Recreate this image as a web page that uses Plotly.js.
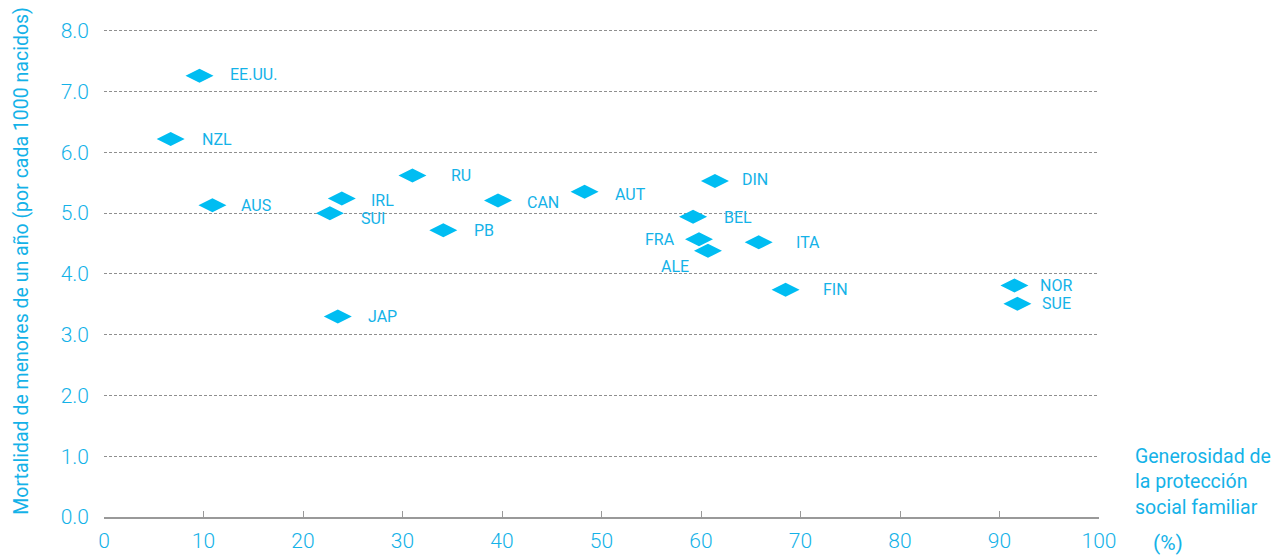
<!DOCTYPE html>
<html>
<head>
<meta charset="utf-8">
<script src="https://cdn.plot.ly/plotly-3.0.1.min.js"></script>
<style>html,body{margin:0;padding:0;background:#fff;}#chart{width:1271px;height:555px;}</style>
</head>
<body>
<div id="chart"></div>
<script>
// Data
const countries = ["EE.UU.","NZL","AUS","IRL","SUI","RU","PB","JAP","CAN","AUT","DIN","BEL","FRA","ALE","ITA","FIN","NOR","SUE"];
const generosity = [9.6, 6.7, 10.9, 23.9, 22.7, 31.0, 34.1, 23.5, 39.6, 48.3, 61.4, 59.2, 59.8, 60.7, 65.8, 68.5, 91.5, 91.8];
const mortality  = [7.26, 6.22, 5.13, 5.24, 5.00, 5.62, 4.72, 3.30, 5.21, 5.35, 5.53, 4.94, 4.57, 4.38, 4.52, 3.74, 3.81, 3.51];
const xTicks = [0,10,20,30,40,50,60,70,80,90,100];
const yTicks = [0,1,2,3,4,5,6,7,8];

// Label placement (styling only)
const labelDX = [28,29,27,27,29,37,29,28,27,28,25,29,-22,-17,35,35,24,23];
const labelDY = [1,0,0,-2,-5,0,0,0,-2,-3,1,-1,0,-16,0,0,0,0];

const cyan = "#00BDF2";
const textCyan = "#14B2E8";
const FONT = "Roboto, 'Liberation Sans', Arial, sans-serif";

const trace = {
  type: "scatter",
  mode: "markers",
  x: generosity,
  y: mortality,
  marker: {symbol: "diamond-wide", size: 20, color: cyan, line: {width: 0}},
  hoverinfo: "skip",
  showlegend: false
};

const annotations = countries.map((c, i) => ({
  x: generosity[i], y: mortality[i], xref: "x", yref: "y",
  text: c, showarrow: false,
  xanchor: labelDX[i] < 0 ? "right" : "left", yanchor: "middle",
  xshift: labelDX[i], yshift: labelDY[i],
  font: {family: FONT, size: 16, color: textCyan}
}));

annotations.push({
  xref: "paper", yref: "paper", x: -0.083, y: 0.526,
  xanchor: "center", yanchor: "middle", textangle: -90,
  text: "Mortalidad de menores de un año (por cada 1000 nacidos)",
  showarrow: false, font: {family: FONT, size: 19.5, color: textCyan}
});
annotations.push({
  xref: "paper", yref: "paper", x: 1.034, y: 0.071,
  xanchor: "left", yanchor: "middle", align: "left",
  text: "Generosidad de<br>la protección<br>social familiar",
  showarrow: false, font: {family: FONT, size: 19.5, color: textCyan}
});
annotations.push({
  xref: "paper", yref: "paper", x: 1.0698, y: -0.053,
  xanchor: "center", yanchor: "middle",
  text: "(%)", showarrow: false, font: {family: FONT, size: 21, color: textCyan}
});

const layout = {
  width: 1271, height: 555,
  margin: {l: 104, r: 172, t: 29, b: 38},
  paper_bgcolor: "#fff", plot_bgcolor: "#fff",
  font: {family: FONT, color: textCyan},
  xaxis: {
    range: [0, 100], tickvals: xTicks, ticktext: xTicks.map(String),
    showgrid: false, zeroline: false,
    showline: true, linecolor: "#999999", linewidth: 2,
    ticks: "inside", ticklen: 6, tickcolor: "#999999", tickwidth: 1,
    tickfont: {family: FONT, size: 21, weight: 300, color: textCyan},
    ticklabelstandoff: 4, fixedrange: true
  },
  yaxis: {
    range: [0, 8.03], tickvals: yTicks, ticktext: yTicks.map(v => v.toFixed(1)),
    showgrid: true, gridcolor: "#8f8f8f", gridwidth: 1, griddash: "3px,2px",
    zeroline: false, showline: false, ticks: "",
    tickfont: {family: FONT, size: 21, weight: 300, color: textCyan},
    ticklabelstandoff: 14, fixedrange: true
  },
  annotations: annotations
};

Plotly.newPlot("chart", [trace], layout, {displayModeBar: false, staticPlot: true});
</script>
</body>
</html>
